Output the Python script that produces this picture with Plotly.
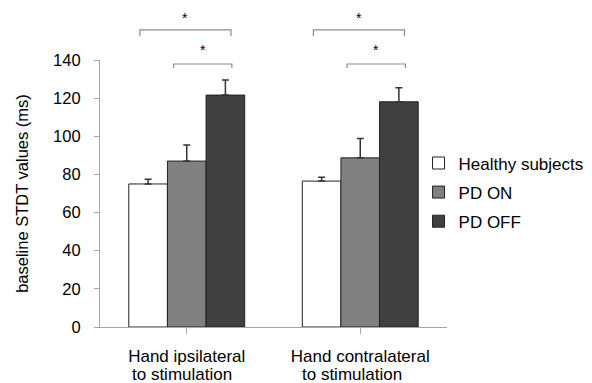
import plotly.graph_objects as go

categories = ["Hand ipsilateral", "Hand contralateral"]
second_line = [" to stimulation", " to stimulation"]
series_names = ["Healthy subjects", "PD ON", "PD OFF"]
healthy = [75, 76.5]
pd_on = [87, 88.7]
pd_off = [121.6, 118.1]
healthy_err = [2.5, 2.0]
pd_on_err = [8.4, 10.2]
pd_off_err = [7.9, 7.4]
y_ticks = [0, 20, 40, 60, 80, 100, 120, 140]

colors = ["#ffffff", "#808080", "#404040"]
values = [healthy, pd_on, pd_off]
errs = [healthy_err, pd_on_err, pd_off_err]

FONT = "Liberation Sans, Arial, sans-serif"

fig = go.Figure()
for name, v, e, c in zip(series_names, values, errs, colors):
    fig.add_trace(go.Bar(
        x=list(range(len(categories))), y=v, name=name, legendgroup=name,
        marker=dict(color=c, line=dict(color="#222222", width=1)),
        error_y=dict(type="data", array=e, arrayminus=[0] * len(e), symmetric=False,
                     color="#333333", thickness=1.5, width=3.5),
    ))

# significance brackets (offsets relative to each category centre)
brackets = [(-0.27, 0.255, 1.1125, 1.09, 0.046), (-0.076, 0.26, 0.985, 0.97, 0.054)]
for ci in range(len(categories)):
    for (a, b, ytop, ybot, soff) in brackets:
        fig.add_shape(type="path", xref="x", yref="paper",
                      path=f"M {ci + a},{ybot} L {ci + a},{ytop} L {ci + b},{ytop} L {ci + b},{ybot}",
                      line=dict(color="#8c8c8c", width=1.2))
        fig.add_annotation(x=ci + (a + b) / 2, xref="x", y=ytop + soff, yref="paper",
                           text="*", showarrow=False, yanchor="middle",
                           font=dict(family=FONT, size=14, color="#000000"))
    fig.add_annotation(x=ci, xref="x", y=-0.177, yref="paper", text=second_line[ci].strip(),
                       showarrow=False, yanchor="middle", xshift=-5 if ci == 0 else -8,
                       font=dict(family=FONT, size=17, color="#000000"))

fig.update_layout(
    width=592, height=383,
    margin=dict(l=92, r=153.3, t=52, b=64.3, autoexpand=False),
    paper_bgcolor="#ffffff", plot_bgcolor="#ffffff",
    font=dict(family=FONT, size=17, color="#000000"),
    barmode="group", bargap=0.332, bargroupgap=0,
    showlegend=True,
    legend=dict(x=0.918, xanchor="left", y=0.68, yanchor="top",
                traceorder="grouped", tracegroupgap=4,
                font=dict(family=FONT, size=17, color="#000000"),
                bgcolor="rgba(0,0,0,0)"),
    xaxis=dict(tickmode="array", tickvals=list(range(len(categories))), ticktext=categories,
               range=[-0.5, 1.5], showline=True, linecolor="#a6a6a6", linewidth=1.2,
               ticks="outside", tickson="boundaries", ticklen=6, tickcolor="#a6a6a6",
               showgrid=False, zeroline=False, ticklabelstandoff=7,
               tickfont=dict(family=FONT, size=17)),
    yaxis=dict(range=[0, 140], tickvals=y_ticks, showline=True, linecolor="#a6a6a6",
               linewidth=1.2, ticks="outside", ticklen=5, tickcolor="#a6a6a6",
               showgrid=False, zeroline=False, ticklabelstandoff=10,
               tickfont=dict(family=FONT, size=16.5),
               title=dict(text="baseline STDT values (ms)", standoff=20,
                          font=dict(family=FONT, size=16.5))),
)

fig.write_html("out.html")
